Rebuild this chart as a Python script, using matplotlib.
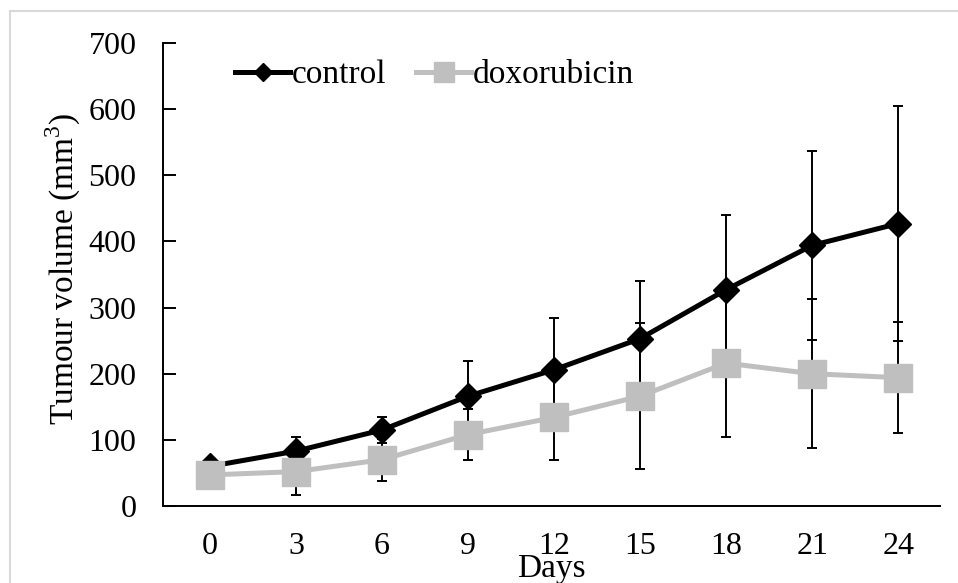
import matplotlib as mpl
import matplotlib.pyplot as plt
from matplotlib.patches import Rectangle

mpl.rcParams['font.family'] = ['Liberation Serif', 'DejaVu Serif']
mpl.rcParams['mathtext.fontset'] = 'custom'
mpl.rcParams['mathtext.rm'] = 'Liberation Serif'

days = [0, 3, 6, 9, 12, 15, 18, 21, 24]
control = [60, 83, 115, 166, 206, 253, 327, 394, 427]
control_err = [8, 21, 20, 53, 78, 87, 113, 143, 178]
doxo = [47, 52, 70, 108, 134, 166, 216, 200, 194]
doxo_err = [22, 35, 32, 38, 64, 110, 111, 113, 84]

BLACK = '#000000'
GRAY = '#BFBFBF'
TICK_FS = 23
LABEL_FS = 24

fig = plt.figure(figsize=(9.58, 5.83), dpi=100)
ax = fig.add_axes([163 / 958, 1 - 506 / 583, 777 / 958, 463 / 583])

# light frame round the chart, as in the export
fig.patches.append(Rectangle((10 / 958, -0.1), 2, 1.1 - 11 / 583,
                             transform=fig.transFigure, fill=False,
                             edgecolor='#D9D9D9', linewidth=1.5))

# error bars sit under the markers
ax.errorbar(days, control, yerr=control_err, fmt='none', ecolor=BLACK,
            elinewidth=1.4, capsize=3.6, capthick=1.4, zorder=1)
ax.errorbar(days, doxo, yerr=doxo_err, fmt='none', ecolor=BLACK,
            elinewidth=1.4, capsize=3.6, capthick=1.4, zorder=1)

ax.plot(days, control, color=BLACK, lw=3.6, marker='D', ms=13,
        label='control', zorder=3)
ax.plot(days, doxo, color=GRAY, lw=3.6, marker='s', ms=20,
        label='doxorubicin', zorder=4)

ax.set_xlim(-1.64, 25.46)
ax.set_ylim(0, 700)
ax.set_xticks(days)
ax.set_yticks(range(0, 701, 100))

for s in ['top', 'right']:
    ax.spines[s].set_visible(False)
for s in ['left', 'bottom']:
    ax.spines[s].set_linewidth(1.4)

ax.tick_params(axis='y', direction='in', length=9, width=1.4, pad=19,
               labelsize=TICK_FS)
ax.tick_params(axis='x', length=0, pad=19, labelsize=TICK_FS)

ax.set_xlabel('Days', fontsize=LABEL_FS, labelpad=-6)
ax.set_ylabel('Tumour volume (mm$^3$)', fontsize=LABEL_FS)
ax.yaxis.set_label_coords(-0.103, 0.512)

ax.legend(loc='center left', bbox_to_anchor=(235 / 958, 1 - 75 / 583),
          bbox_transform=fig.transFigure, ncol=2, frameon=False,
          fontsize=LABEL_FS, borderpad=0, borderaxespad=0,
          handlelength=1.65, handletextpad=0.05, columnspacing=0.9,
          markerscale=0.7)

plt.savefig('out.png', dpi=100)
